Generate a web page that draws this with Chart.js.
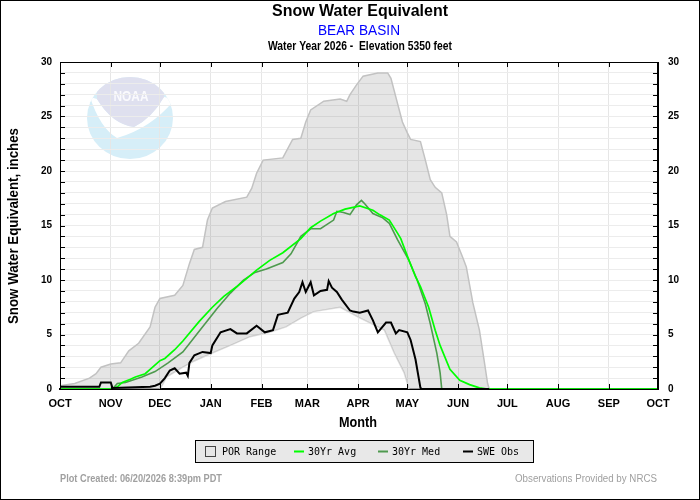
<!DOCTYPE html>
<html>
<head>
<meta charset="utf-8">
<title>Snow Water Equivalent - BEAR BASIN</title>
<script src="https://cdn.jsdelivr.net/npm/chart.js@4.4.1/dist/chart.umd.min.js"></script>
<style>
  html, body { margin: 0; padding: 0; background: #fff; }
  #wrap { width: 700px; height: 500px; }
</style>
</head>
<body>
<div id="wrap"><canvas id="sweChart" width="700" height="500"></canvas></div>
<script>
// Water year days: 0 = Oct 1, 365 = next Oct 1
const monthDays = [0, 31, 61, 92, 123, 151, 182, 212, 243, 273, 304, 335, 365];
const monthLabels = ['OCT', 'NOV', 'DEC', 'JAN', 'FEB', 'MAR', 'APR', 'MAY', 'JUN', 'JUL', 'AUG', 'SEP', 'OCT'];
const yLabelValues = [0, 5, 10, 15, 20, 25, 30];

// POR range envelope (max / min), inches
const porMaxDays = [0, 9, 18, 22, 25, 31, 37, 42, 48, 55, 58, 61, 70, 75, 79, 82, 87, 90, 93, 101, 114, 117, 120, 124, 136, 142, 147, 150, 153, 161, 171, 175, 177, 181, 185, 194, 200, 202, 206, 209, 212, 214, 220, 223, 226, 229, 233, 236, 238, 242, 246, 248, 252, 256, 259, 261, 262];
const porMax = [0.3, 0.5, 1.0, 1.4, 2.0, 2.3, 2.4, 3.5, 4.2, 5.7, 7.5, 8.3, 8.6, 9.5, 11.5, 12.8, 13.0, 15.5, 16.6, 17.2, 17.6, 18.4, 19.8, 21.0, 21.2, 22.9, 23.0, 24.5, 25.6, 26.4, 26.6, 26.4, 27.0, 27.9, 28.7, 29.0, 29.0, 28.5, 26.2, 24.5, 23.5, 22.9, 22.7, 21.0, 19.2, 18.5, 18.0, 16.0, 14.0, 13.5, 12.0, 11.2, 7.9, 5.4, 2.5, 0.5, 0];
const porMinDays = [0, 61, 63, 65, 75, 81, 93, 104, 116, 128, 138, 147, 155, 171, 182, 190, 198, 204, 210, 213, 262];
const porMin = [0, 0, 0.5, 1.1, 2.0, 2.5, 3.3, 4.0, 4.8, 5.2, 5.7, 6.5, 7.1, 7.5, 6.6, 6.0, 5.4, 3.3, 1.5, 0, 0];

// 30 year average
const avgDays = [0, 31, 33, 35, 38, 43, 46, 52, 55, 61, 64, 70, 75, 85, 93, 100, 108, 120, 128, 136, 147, 153, 159, 167, 174, 183, 191, 195, 201, 206, 208, 213, 217, 220, 225, 229, 232, 235, 238, 244, 250, 256, 261, 365];
const avgSwe = [0, 0, 0.1, 0.2, 0.6, 0.9, 1.1, 1.4, 1.8, 2.6, 2.8, 3.6, 4.4, 6.2, 7.5, 8.5, 9.4, 10.9, 11.8, 12.5, 13.8, 14.8, 15.4, 16.1, 16.5, 16.8, 16.4, 16.0, 15.5, 14.3, 13.8, 11.8, 10.3, 9.4, 7.5, 5.4, 4.0, 2.9, 1.8, 0.8, 0.4, 0.1, 0, 0];

// 30 year median
const medDays = [0, 32, 35, 40, 50, 58, 66, 75, 86, 96, 104, 112, 119, 126, 136, 141, 147, 153, 159, 167, 169, 173, 177, 181, 184, 186, 191, 197, 201, 206, 213, 218, 223, 226, 230, 232, 233, 365];
const medSwe = [0, 0, 0.5, 0.6, 1.1, 1.6, 2.4, 3.4, 5.5, 7.4, 8.8, 10.0, 10.7, 11.0, 11.6, 12.4, 14.0, 14.7, 14.7, 15.5, 16.3, 16.2, 16.0, 16.9, 17.3, 17.0, 16.1, 15.7, 15.2, 13.7, 11.8, 10.0, 7.8, 6.0, 3.3, 1.5, 0, 0];

// Observed SWE, water year 2026
const obsDays = [0, 24, 25, 31, 32, 55, 58, 61, 64, 67, 70, 73, 77, 78, 79, 82, 87, 92, 93, 98, 104, 108, 114, 120, 125, 130, 133, 139, 143, 146, 148, 150, 153, 155, 159, 163, 164, 166, 169, 172, 177, 179, 183, 188, 191, 194, 199, 202, 205, 207, 212, 214, 217, 220, 221, 262];
const obsSwe = [0.2, 0.2, 0.6, 0.6, 0.1, 0.2, 0.3, 0.5, 1.0, 1.7, 1.9, 1.4, 1.5, 1.2, 2.4, 3.1, 3.4, 3.3, 4.0, 5.2, 5.5, 5.1, 5.1, 5.8, 5.2, 5.4, 6.8, 7.0, 8.3, 8.9, 9.8, 8.9, 9.8, 8.6, 9.0, 9.1, 9.9, 9.3, 8.9, 8.2, 7.2, 7.1, 7.0, 7.2, 6.3, 5.2, 6.1, 6.1, 5.1, 5.4, 5.2, 4.5, 2.7, 0.1, 0, 0];

const colors = {
    porFill: 'rgba(0, 0, 0, 0.1)',
    porMax: '#c2c2c2',
    porMin: '#dddddd',
    avg: '#00ff00',
    med: '#4f9a4f',
    obs: '#000000',
    footer: '#a0a0a0'
};

const fontFamily = "'Liberation Sans', Arial, sans-serif";

function toPoints(days, values) {
    return days.map((d, i) => ({ x: d, y: values[i] }));
}

// faint NOAA watermark in the upper left of the plot
function drawLogo(ctx) {
    ctx.save();
    ctx.beginPath();
    ctx.ellipse(130, 118, 43, 41, 0, 0, Math.PI * 2);
    ctx.fillStyle = '#d6eef8';
    ctx.fill();
    ctx.clip();

    // white gull
    ctx.beginPath();
    ctx.moveTo(90, 97);
    ctx.quadraticCurveTo(100, 128, 117, 138);
    ctx.quadraticCurveTo(152, 128, 175, 99);
    ctx.lineTo(164, 97);
    ctx.quadraticCurveTo(152, 118, 134, 127);
    ctx.quadraticCurveTo(112, 124, 97, 99);
    ctx.closePath();
    ctx.fillStyle = '#ffffff';
    ctx.fill();

    // upper dome
    ctx.beginPath();
    ctx.moveTo(97, 99);
    ctx.lineTo(97, 60);
    ctx.lineTo(164, 60);
    ctx.lineTo(164, 97);
    ctx.quadraticCurveTo(152, 118, 134, 127);
    ctx.quadraticCurveTo(112, 124, 97, 99);
    ctx.closePath();
    ctx.fillStyle = '#dfe0ef';
    ctx.fill();
    ctx.restore();

    ctx.save();
    ctx.fillStyle = '#fafafd';
    ctx.font = 'bold 14px ' + fontFamily;
    ctx.textAlign = 'center';
    ctx.textBaseline = 'middle';
    ctx.fillText('NOAA', 131, 97, 35);
    ctx.restore();
}

function drawText(ctx, text, x, y, font, color, align, maxWidth) {
    ctx.font = font;
    ctx.fillStyle = color;
    ctx.textAlign = align;
    ctx.textBaseline = 'middle';
    if (maxWidth) ctx.fillText(text, x, y, maxWidth);
    else ctx.fillText(text, x, y);
}

// Background and logo
const backdropPlugin = {
    id: 'backdrop',
    beforeDraw(chart) {
        const ctx = chart.ctx;
        ctx.save();
        ctx.fillStyle = '#ffffff';
        ctx.fillRect(0, 0, chart.width, chart.height);
        ctx.restore();
        drawLogo(ctx);
    }
};

// Plot frame with inward ticks
const framePlugin = {
    id: 'frame',
    afterDatasetsDraw(chart) {
        const { ctx, chartArea: a, scales } = chart;
        ctx.save();
        ctx.strokeStyle = '#000';
        ctx.lineWidth = 1;
        ctx.strokeRect(a.left + 0.5, a.top + 0.5, a.right - a.left - 1, a.bottom - a.top);
        ctx.beginPath();
        scales.y.ticks.forEach(t => {
            const y = Math.round(scales.y.getPixelForValue(t.value)) + 0.5;
            ctx.moveTo(a.left, y); ctx.lineTo(a.left + 5, y);
            ctx.moveTo(a.right, y); ctx.lineTo(a.right - 5, y);
        });
        scales.x.ticks.forEach(t => {
            const x = Math.round(scales.x.getPixelForValue(t.value)) + 0.5;
            ctx.moveTo(x, a.top); ctx.lineTo(x, a.top + 5);
            ctx.moveTo(x, a.bottom); ctx.lineTo(x, a.bottom - 5);
        });
        ctx.stroke();
        ctx.restore();
    }
};

// Titles, axis titles, legend, footer and outer border
const labelsPlugin = {
    id: 'labels',
    afterDraw(chart) {
        const ctx = chart.ctx;
        ctx.save();
        drawText(ctx, 'Snow Water Equivalent', 360, 11, 'bold 17px ' + fontFamily, '#000', 'center', 176);
        drawText(ctx, 'BEAR BASIN', 359, 31, '15px ' + fontFamily, '#0000ff', 'center', 82);
        drawText(ctx, 'Water Year 2026 -  Elevation 5350 feet', 360, 47, 'bold 12px ' + fontFamily, '#000', 'center', 184);
        drawText(ctx, 'Month', 358, 423, 'bold 14px ' + fontFamily, '#000', 'center', 38);

        ctx.save();
        ctx.translate(14, 226);
        ctx.rotate(-Math.PI / 2);
        drawText(ctx, 'Snow Water Equivalent, inches', 0, 0, 'bold 14px ' + fontFamily, '#000', 'center', 196);
        ctx.restore();

        // legend box
        ctx.fillStyle = '#e8e8e8';
        ctx.fillRect(195.5, 440.5, 338, 22);
        ctx.strokeStyle = '#000';
        ctx.lineWidth = 1;
        ctx.strokeRect(195.5, 440.5, 338, 22);

        ctx.fillStyle = '#e6e6e6';
        ctx.fillRect(205.5, 446.5, 10, 10);
        ctx.strokeStyle = '#444';
        ctx.strokeRect(205.5, 446.5, 10, 10);

        const legendFont = '10px "DejaVu Sans Mono", monospace';
        const items = [
            { x: 222, label: 'POR Range' },
            { x: 294, label: '30Yr Avg', color: colors.avg },
            { x: 378, label: '30Yr Med', color: colors.med },
            { x: 463, label: 'SWE Obs', color: colors.obs }
        ];
        items.forEach(it => {
            if (it.color) {
                ctx.strokeStyle = it.color;
                ctx.lineWidth = 2;
                ctx.beginPath();
                ctx.moveTo(it.x, 451.5);
                ctx.lineTo(it.x + 10, 451.5);
                ctx.stroke();
                drawText(ctx, it.label, it.x + 14, 452, legendFont, '#000', 'left');
            } else {
                drawText(ctx, it.label, it.x, 452, legendFont, '#000', 'left');
            }
        });

        drawText(ctx, 'Plot Created: 06/20/2026 8:39pm PDT', 60, 479, 'bold 10px ' + fontFamily, colors.footer, 'left', 162);
        drawText(ctx, 'Observations Provided by NRCS', 657, 479, '10px ' + fontFamily, colors.footer, 'right', 142);

        ctx.strokeStyle = '#000';
        ctx.lineWidth = 1;
        ctx.strokeRect(0.5, 0.5, chart.width - 1, chart.height - 1);
        ctx.restore();
    }
};

const yTicks = {
    stepSize: 1,
    maxTicksLimit: 31,
    autoSkip: false,
    color: '#000',
    font: { family: fontFamily, size: 10, weight: 'bold' },
    callback: v => (yLabelValues.includes(v) ? String(v) : '')
};

const ctx = document.getElementById('sweChart').getContext('2d');
const sweChart = new Chart(ctx, {
    type: 'line',
    data: {
        datasets: [
            {
                label: 'SWE Obs',
                data: toPoints(obsDays, obsSwe),
                borderColor: colors.obs,
                borderWidth: 2,
                pointRadius: 0,
                fill: false
            },
            {
                label: '30Yr Avg',
                data: toPoints(avgDays, avgSwe),
                borderColor: colors.avg,
                borderWidth: 1.7,
                pointRadius: 0,
                fill: false
            },
            {
                label: '30Yr Med',
                data: toPoints(medDays, medSwe),
                borderColor: colors.med,
                borderWidth: 1.6,
                pointRadius: 0,
                fill: false
            },
            {
                label: 'POR Range',
                data: toPoints(porMaxDays, porMax),
                borderColor: colors.porMax,
                borderWidth: 1.5,
                backgroundColor: colors.porFill,
                pointRadius: 0,
                fill: '+1'
            },
            {
                label: 'POR Min',
                data: toPoints(porMinDays, porMin),
                borderColor: colors.porMin,
                borderWidth: 1.5,
                pointRadius: 0,
                fill: false
            }
        ]
    },
    options: {
        responsive: false,
        animation: false,
        devicePixelRatio: 1,
        layout: { padding: { top: 62, left: 0, right: 0, bottom: 0 } },
        plugins: {
            legend: { display: false },
            tooltip: { enabled: false },
            title: { display: false }
        },
        scales: {
            x: {
                type: 'linear',
                position: 'bottom',
                min: 0,
                max: 365,
                afterBuildTicks: axis => { axis.ticks = monthDays.map(v => ({ value: v })); },
                afterFit: scale => { scale.height = 111; },
                ticks: {
                    autoSkip: false,
                    maxRotation: 0,
                    padding: 8,
                    color: '#000',
                    font: { family: fontFamily, size: 11, weight: 'bold' },
                    callback: (v, i) => monthLabels[i]
                },
                grid: { color: '#e6e6e6', drawTicks: false },
                border: { color: '#000', width: 2 }
            },
            y: {
                type: 'linear',
                position: 'left',
                min: 0,
                max: 30,
                afterFit: scale => { scale.width = 60; },
                ticks: Object.assign({ padding: 8 }, yTicks),
                grid: { color: '#ececec', drawTicks: false },
                border: { color: '#000', width: 1 }
            },
            y2: {
                type: 'linear',
                position: 'right',
                min: 0,
                max: 30,
                afterFit: scale => { scale.width = 42; },
                ticks: Object.assign({ padding: 10 }, yTicks),
                grid: { display: false, drawTicks: false },
                border: { color: '#000', width: 1 }
            }
        }
    },
    plugins: [backdropPlugin, framePlugin, labelsPlugin]
});
</script>
</body>
</html>
